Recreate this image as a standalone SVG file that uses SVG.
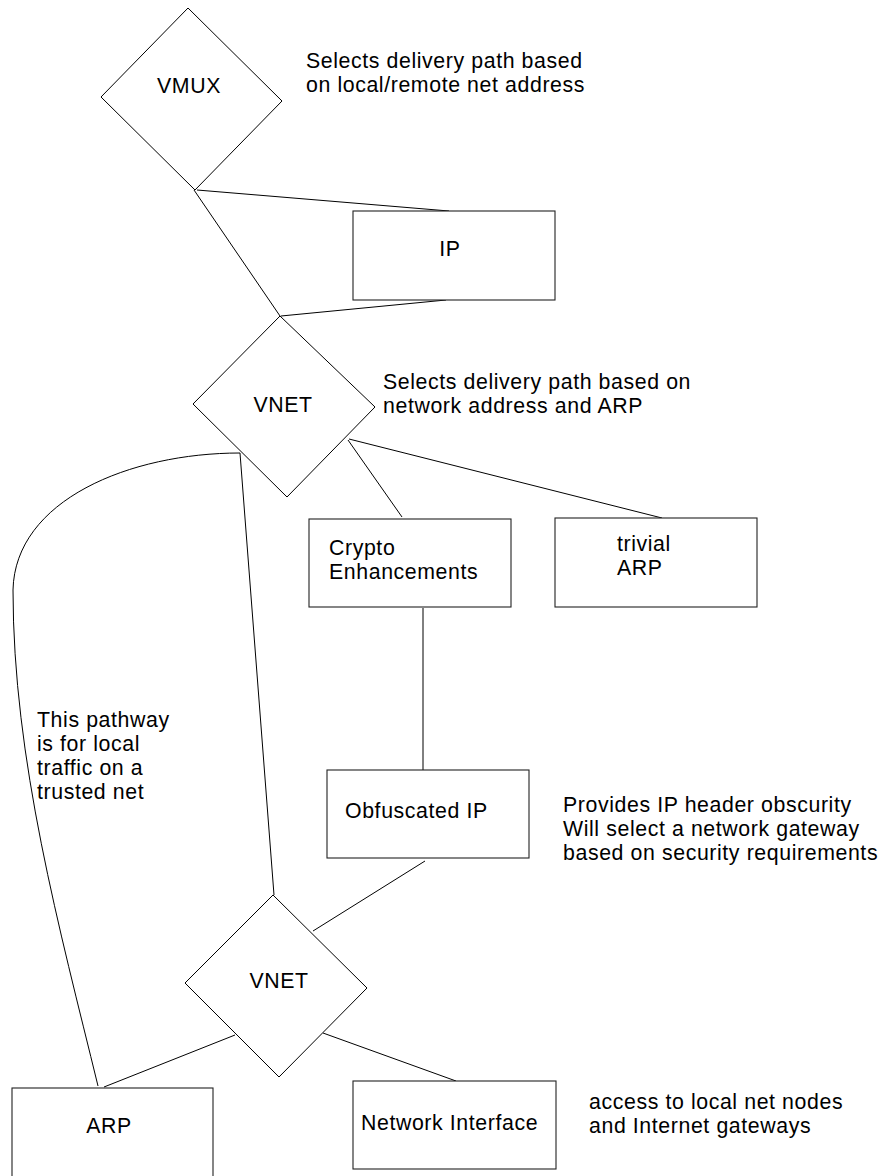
<svg xmlns="http://www.w3.org/2000/svg" width="890" height="1176" viewBox="0 0 890 1176">
  <style>
    .shape { fill: #fff; stroke: #000; stroke-width: 1; }
    .box { fill: #fff; stroke: #222; stroke-width: 1.1; }
    .link { fill: none; stroke: #000; stroke-width: 1; }
    text { font-family: "Liberation Sans", Arial, Helvetica, sans-serif; font-size: 21.3px; letter-spacing: 0.6px; fill: #000; }
    .mid { text-anchor: middle; }
  </style>
  <rect width="890" height="1176" fill="#fff"/>

  <!-- connectors -->
  <g id="connectors">
    <line class="link" x1="197" y1="190" x2="449" y2="211"/>
    <line class="link" x1="194" y1="190" x2="280" y2="316"/>
    <line class="link" x1="281" y1="316" x2="446" y2="300"/>
    <line class="link" x1="348" y1="440" x2="402" y2="517"/>
    <line class="link" x1="349" y1="439" x2="662" y2="518"/>
    <path class="link" d="M240,453 C130,453 15,500 13,590 C13,760 60,930 98,1086"/>
    <line class="link" x1="240" y1="453" x2="274" y2="895"/>
    <line class="link" x1="423" y1="608" x2="423" y2="770"/>
    <line class="link" x1="425" y1="861" x2="313" y2="931"/>
    <line class="link" x1="235" y1="1035" x2="104" y2="1087"/>
    <line class="link" x1="323" y1="1033" x2="456" y2="1081"/>
  </g>

  <!-- multiplexer -->
  <g id="vmux">
    <polygon class="shape" points="188,8 282,101 195,190 101,97"/>
    <text class="mid" x="189" y="93">VMUX</text>
  </g>
  <g id="vmux-note">
    <text x="306" y="67.5">Selects delivery path based</text>
    <text x="306" y="91.5">on local/remote net address</text>
  </g>

  <g id="ip">
    <rect class="box" x="353" y="211" width="202" height="89"/>
    <text class="mid" x="450" y="256">IP</text>
  </g>

  <!-- upper network switch -->
  <g id="vnet-upper">
    <polygon class="shape" points="280,316 375,407 287,497 193,404"/>
    <text class="mid" x="283" y="412">VNET</text>
  </g>
  <g id="vnet-upper-note">
    <text x="383" y="388.5">Selects delivery path based on</text>
    <text x="383" y="412.5">network address and ARP</text>
  </g>

  <g id="crypto">
    <rect class="box" x="309" y="519" width="202" height="88"/>
    <text x="329" y="554.5">Crypto</text>
    <text x="329" y="578.5">Enhancements</text>
  </g>

  <g id="trivial-arp">
    <rect class="box" x="555" y="518" width="202" height="89"/>
    <text x="617" y="551">trivial</text>
    <text x="617" y="575">ARP</text>
  </g>

  <g id="local-path-note">
    <text x="37" y="726.5">This pathway</text>
    <text x="37" y="750.5">is for local</text>
    <text x="37" y="774.5">traffic on a</text>
    <text x="37" y="798.5">trusted net</text>
  </g>

  <g id="obfuscated-ip">
    <rect class="box" x="327" y="770" width="202" height="88"/>
    <text x="345" y="818">Obfuscated IP</text>
  </g>
  <g id="obfuscated-ip-note">
    <text x="563" y="811.5">Provides IP header obscurity</text>
    <text x="563" y="835.5">Will select a network gateway</text>
    <text x="563" y="859.5">based on security requirements</text>
  </g>

  <!-- lower network switch -->
  <g id="vnet-lower">
    <polygon class="shape" points="273,895 367,988 279,1077 185,983"/>
    <text class="mid" x="279" y="988">VNET</text>
  </g>

  <g id="arp">
    <rect class="box" x="12" y="1088" width="201" height="100"/>
    <text class="mid" x="109" y="1133">ARP</text>
  </g>

  <g id="network-interface">
    <rect class="box" x="353" y="1081" width="203" height="88"/>
    <text x="361" y="1130">Network Interface</text>
  </g>
  <g id="network-interface-note">
    <text x="589" y="1109">access to local net nodes</text>
    <text x="589" y="1133">and Internet gateways</text>
  </g>
</svg>
